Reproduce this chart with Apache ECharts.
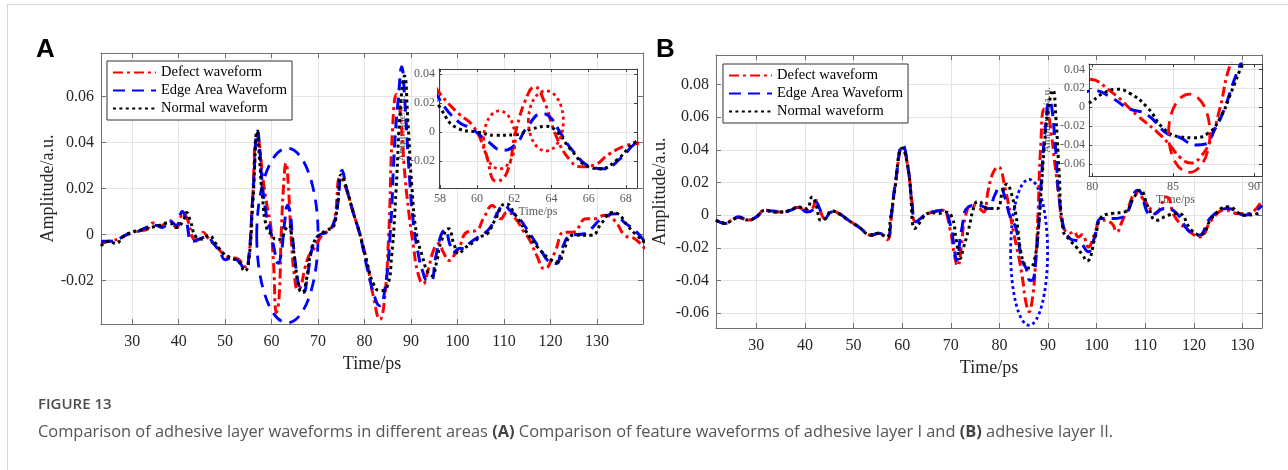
<!DOCTYPE html>
<html><head><meta charset="utf-8">
<script src="https://cdn.jsdelivr.net/npm/echarts@6/dist/echarts.min.js"></script>
<style>
html,body{margin:0;padding:0;background:#fff;}
#wrap{position:relative;width:1288px;height:470px;overflow:hidden;background:#fff;}
#frame{position:absolute;left:7px;top:4px;width:1290px;height:480px;border-left:1px solid #d6d6d6;border-top:1px solid #d6d6d6;}
#chart{position:absolute;left:0;top:0;width:1288px;height:470px;}
.letter{position:absolute;font-family:"Liberation Sans",Arial,sans-serif;font-weight:bold;font-size:26px;line-height:26px;color:#000;}
#fig{position:absolute;left:38px;top:396px;font-family:"Open Sans",sans-serif;font-size:15px;line-height:15px;color:#4d4d4d;font-weight:600;}
#cap{position:absolute;left:38px;top:423px;font-family:"Open Sans",sans-serif;font-size:16.4px;line-height:16px;color:#555;white-space:nowrap;}
#cap b{font-weight:700;color:#444;}
</style></head>
<body><div id="wrap">
<div id="frame"></div>
<div id="chart"></div>
<div class="letter" style="left:36px;top:35px;">A</div>
<div class="letter" style="left:656px;top:35px;">B</div>
<div id="fig">FIGURE 13</div>
<div id="cap">Comparison of adhesive layer waveforms in different areas <b>(A)</b> Comparison of feature waveforms of adhesive layer I and <b>(B)</b> adhesive layer II.</div>
</div>
<script>
// ---------- data (time in ps, amplitude in a.u.) ----------
const seriesNames = ['Defect waveform', 'Edge Area Waveform', 'Normal waveform'];

const defectA = [[23.3,-0.004],[25,-0.003],[27,-0.002],[29,0.0],[31,0.0015],[33,0.002],[34.5,0.005],[36,0.0035],[38,0.006],[39.5,0.003],[41,0.009],[42,0.006],[43.2,-0.002],[44.5,-0.003],[45.3,0.001],[46.5,-0.002],[48,-0.005],[50,-0.009],[51.5,-0.010],[53,-0.011],[54.3,-0.014],[55,-0.012],[55.9,0.015],[56.8,0.042],[57.3,0.040],[58,0.0265],[59,0.0127],[59.8,0.0039],[60.4,-0.0122],[61.05,-0.034],[61.6,-0.028],[62.1,0.0016],[62.75,0.0265],[63.1,0.031],[63.55,0.023],[64.27,-0.0034],[65,-0.0195],[65.6,-0.024],[66.24,-0.023],[67.14,-0.0149],[68.04,-0.0092],[68.6,-0.008],[70,-0.003],[71,0.0],[72.5,0.002],[73.5,0.006],[74.8,0.025],[76,0.020],[77.5,0.010],[79,0.0],[80.5,-0.012],[82,-0.028],[83.3,-0.037],[84.2,-0.030],[85.2,0.0],[86,0.045],[86.9,0.061],[87.6,0.055],[88.5,0.030],[89.5,0.010],[90.5,-0.005],[91.5,-0.017],[92.6,-0.0215],[93.6,-0.016],[95,-0.006],[96,-0.004],[97,-0.008],[98.2,-0.0113],[99.3,-0.009],[100.5,-0.005],[102,0.001],[104,0.0017],[105.7,0.0075],[107.5,0.0126],[109.3,0.0068],[110.7,0.0097],[112.5,0.0068],[114,0.002],[115.4,-0.002],[117,-0.009],[118.7,-0.015],[120.8,-0.0084],[123,0.001],[124.8,0.001],[127.7,0.0068],[129.5,0.0068],[131.7,0.0083],[133.8,0.006],[136,-0.0004],[138.2,-0.002],[140.6,-0.007]];

const edgeA = [[23.3,-0.003],[25,-0.003],[27,-0.002],[29,0.0],[31,0.001],[33,0.003],[35,0.004],[36.5,0.003],[38,0.006],[39.5,0.004],[40.8,0.010],[41.5,0.007],[43,-0.003],[44.5,-0.002],[46,-0.001],[47.5,-0.004],[49,-0.008],[50,-0.011],[51.5,-0.010],[53,-0.012],[54.3,-0.015],[55,-0.012],[56,0.018],[57,0.045],[57.5,0.036],[58,0.022],[59,0.007],[59.7,0.0023],[60.5,-0.0057],[61.4,-0.0126],[62.1,-0.008],[62.7,0.0035],[63.5,0.0127],[64,0.0092],[64.45,0.0],[65.2,-0.0138],[66.06,-0.0237],[66.8,-0.0253],[67.7,-0.0184],[68.5,-0.008],[69.5,-0.002],[70.5,0.0],[72,0.001],[73,0.003],[74,0.010],[75.2,0.028],[76,0.021],[77.5,0.010],[79,0.0],[80.5,-0.014],[82,-0.026],[83.2,-0.031],[84.3,-0.025],[85.5,0.0],[86.5,0.040],[87.3,0.060],[88,0.073],[88.6,0.060],[89.5,0.030],[90.5,0.005],[91.5,-0.008],[92.5,-0.016],[93.5,-0.020],[94.3,-0.020],[95.3,-0.010],[96.5,0.0],[97.4,0.002],[98.3,-0.004],[99.2,-0.0077],[100.5,-0.006],[101.4,-0.0062],[102.5,-0.004],[104.2,-0.0015],[105.5,0.0],[107.1,0.0032],[108.5,0.009],[110,0.0126],[111.5,0.010],[113.3,0.0068],[115,0.002],[116.3,-0.002],[118,-0.007],[119.4,-0.0113],[121.2,-0.0127],[122.5,-0.006],[124.4,-0.0004],[127.3,0.0003],[128.5,0.002],[131,0.0068],[133.8,0.009],[136,0.005],[138.2,0.0017],[140.6,-0.004]];

const normalA = [[23.3,-0.005],[25,-0.003],[26.5,-0.004],[28,-0.001],[30,0.001],[32,0.002],[34,0.003],[36,0.004],[38,0.005],[39.5,0.003],[41,0.006],[41.7,0.0095],[42.5,0.006],[43.7,-0.001],[45,-0.002],[46.5,-0.0005],[48,-0.004],[49.5,-0.008],[51,-0.010],[53,-0.012],[54.2,-0.016],[55,-0.013],[56,0.015],[56.9,0.045],[57.4,0.033],[58,0.017],[59,0.0023],[60,0.0],[61,-0.0023],[62,-0.002],[63,0.0023],[63.7,0.0039],[64.3,0.0],[65,-0.0115],[66,-0.024],[66.6,-0.0253],[67.5,-0.0195],[68.5,-0.007],[69.5,-0.002],[70.5,0.0],[72,0.002],[73.2,0.003],[74,0.010],[75,0.026],[76,0.021],[77.5,0.010],[79,0.0],[80.5,-0.012],[82,-0.022],[83.3,-0.0245],[84.8,-0.023],[85.8,-0.010],[86.8,0.020],[87.7,0.055],[88.6,0.069],[89.3,0.050],[90.2,0.020],[91.2,0.0],[92.5,-0.010],[93.5,-0.016],[94.5,-0.018],[95.5,-0.012],[96.5,-0.003],[98.1,0.0025],[99.2,-0.004],[100.3,-0.0084],[101.5,-0.006],[103.5,-0.0033],[105,-0.001],[106.4,0.0003],[108,0.006],[110.4,0.0134],[112.5,0.0083],[114.5,0.002],[117.2,-0.0055],[119.8,-0.0106],[121.6,-0.012],[123,-0.006],[124.8,-0.0004],[128.8,-0.0004],[131,0.005],[133.3,0.0095],[134.5,0.009],[136.5,0.004],[138.2,0.0003],[140.6,-0.004]];

const defectB = [[21.7,-0.003],[23.6,-0.005],[25,-0.003],[26.3,-0.0014],[28.4,-0.003],[30,-0.001],[31.8,0.003],[33.5,0.002],[35.2,0.002],[37,0.003],[38.6,0.0047],[40.4,0.0026],[41.5,0.004],[42.3,0.009],[43,0.004],[44.1,-0.002],[45.5,0.0026],[47,0.001],[48.9,-0.003],[51,-0.0071],[53.7,-0.0122],[55.1,-0.0112],[56.9,-0.015],[57.8,0.0],[58.5,0.0173],[60.1,0.042],[61.25,0.0275],[62,0.008],[62.8,-0.004],[64.7,0.0],[67.1,0.0026],[68.4,0.003],[69.8,-0.008],[70.6,-0.022],[71.4,-0.031],[72.2,-0.018],[72.9,-0.002],[74.3,0.006],[75.6,0.005],[76.7,0.002],[77.7,0.0153],[78.7,0.026],[79.75,0.0295],[81.1,0.0173],[82.8,-0.009],[84,-0.026],[84.8,-0.040],[85.4,-0.0526],[86.1,-0.059],[86.7,-0.0526],[87.3,-0.035],[87.9,-0.001],[88.5,0.043],[89.2,0.065],[89.8,0.064],[90.4,0.056],[91.4,0.0316],[92.3,0.010],[93.1,-0.007],[94.5,-0.011],[95.3,-0.010],[96.2,-0.0133],[97,-0.012],[98.3,-0.0194],[99.5,-0.012],[101,-0.003],[103.1,-0.005],[104.1,-0.0102],[105.2,-0.004],[106.5,0.0051],[108.2,0.0133],[110.3,0.0071],[112,0.001],[114.4,0.0112],[116.1,-0.001],[118.8,-0.0092],[121.2,-0.0133],[123.6,-0.0031],[126.4,0.0031],[129.1,0.001],[131.1,0.001],[134,0.0095]];

const edgeB = [[21.7,-0.003],[23.6,-0.005],[25,-0.003],[26.3,-0.001],[28.4,-0.003],[30,-0.001],[31.8,0.003],[33.5,0.0025],[35.2,0.002],[37,0.003],[38.6,0.005],[40.4,0.002],[41.5,0.003],[42.3,0.008],[43,0.004],[44.1,-0.002],[45.5,0.002],[47,0.001],[48.9,-0.003],[51,-0.007],[53.7,-0.012],[55.1,-0.011],[56.9,-0.013],[57.8,0.001],[58.5,0.018],[60.1,0.043],[61.25,0.028],[62,0.008],[62.8,-0.004],[64.7,0.0],[67.1,0.0026],[68.5,0.003],[69.9,-0.006],[70.6,-0.018],[71.2,-0.0275],[72.2,-0.0092],[73.6,0.0051],[75.6,0.0061],[77.7,0.004],[79,0.012],[80.1,0.0175],[81.2,0.010],[82.2,-0.001],[83.4,-0.008],[84.6,-0.0275],[85.4,-0.032],[86.4,-0.040],[87,-0.039],[87.5,-0.026],[88.1,-0.005],[88.9,0.034],[89.5,0.055],[90.3,0.070],[90.8,0.065],[91.4,0.046],[92.8,-0.001],[94.5,-0.0143],[96.5,-0.0163],[98.3,-0.0224],[99.5,-0.014],[101,-0.002],[103.7,-0.002],[105.8,0.0],[108.5,0.0153],[111.3,0.0],[114,0.0041],[116.5,0.001],[118.8,-0.0092],[120.9,-0.0122],[123.6,-0.001],[127,0.0041],[130.5,0.0],[134,0.006]];

const normalB = [[21.7,-0.003],[23.6,-0.005],[25,-0.003],[26.3,-0.0014],[28.4,-0.003],[30,-0.001],[31.8,0.003],[33.5,0.002],[35.2,0.002],[37,0.003],[38.6,0.005],[40.3,0.004],[41.5,0.0112],[42.3,0.006],[43.3,-0.0031],[44.3,-0.002],[45.5,0.0026],[47,0.001],[48.9,-0.003],[51,-0.007],[53.7,-0.0122],[55.1,-0.011],[56.8,-0.0135],[57.6,-0.002],[58.3,0.012],[60,0.041],[61.3,0.027],[62.6,-0.0081],[63.5,-0.005],[64.7,0.0],[66,0.0015],[67.5,0.001],[68.8,0.002],[70.2,-0.001],[71.1,-0.015],[71.9,-0.0265],[72.6,-0.020],[73.6,-0.0092],[75,0.0071],[75.8,0.0084],[77,0.005],[78.4,0.0041],[79.5,0.004],[80.7,0.0149],[81.5,0.019],[82.3,0.0149],[83.4,0.0],[84.4,-0.0223],[85.4,-0.0313],[86.2,-0.0323],[87.1,-0.0284],[87.9,-0.0117],[88.7,0.0202],[89.3,0.045],[90,0.064],[91,0.0765],[91.6,0.060],[92.2,0.030],[93.1,-0.0092],[94.5,-0.0153],[95.8,-0.0194],[97,-0.024],[98,-0.028],[99.7,-0.0133],[101,-0.001],[103.1,0.001],[105.8,0.002],[107.5,0.010],[108.9,0.0153],[110.6,0.005],[112.3,-0.0031],[114.7,0.0],[116.8,0.001],[119.5,-0.0092],[121.2,-0.0122],[123.9,-0.001],[127,0.0051],[130.5,0.0],[133.2,0.001],[134,0.002]];

// highlighted regions [centre time, centre amplitude, half-width (ps), half-height (a.u.)]
const markA = [[63.4,-0.0005,6.6,0.038]];
const markInsetA = [[61.2,-0.0054,0.85,0.020],[63.7,0.0076,0.94,0.0207]];
const markB = [[86.1,-0.0227,3.8,0.0446]];
const markInsetB = [[86.0,-0.0276,1.28,0.0414]];

// axis ranges
const rangeA = {x:[23.3,139.9], y:[-0.039,0.079]};
const rangeInsetA = {x:[57.95,68.6], y:[-0.0386,0.0434]};
const rangeB = {x:[21.7,134.0], y:[-0.069,0.098]};
const rangeInsetB = {x:[79.8,90.5], y:[-0.0728,0.0457]};

// ---------- chart ----------
const SERIF = '"Liberation Serif","Times New Roman",serif';
const chart = echarts.init(document.getElementById('chart'), null, {renderer:'canvas'});

const xAxes = [], yAxes = [];
function axis(list, o) {
  const a = {
    type:'value', gridIndex:o.grid, min:o.range[0], max:o.range[1], position:o.pos,
    splitNumber:o.split, z:o.z, silent:true,
    axisLine:{show:o.line, onZero:false, lineStyle:{color:o.frame, width:1}},
    axisTick:{show:o.line, inside:true, length:o.tick, lineStyle:{color:o.frame, width:1}},
    splitLine:{show:!!o.gridLines, lineStyle:{color:'#e4e4e4', width:1}},
    axisLabel:{show:!!o.labels, color:o.labelColor, fontFamily:SERIF, fontSize:o.fontSize, margin:o.margin,
      showMinLabel:false, showMaxLabel:false, hideOverlap:false},
    axisPointer:{show:false}
  };
  if (o.name) {
    a.name = o.name; a.nameLocation = 'middle'; a.nameGap = o.nameGap;
    if (o.rotate) a.nameRotate = 90;
    a.nameTextStyle = {fontFamily:SERIF, fontSize:o.nameSize, color:o.nameColor};
  }
  list.push(a);
  return list.length - 1;
}
function panel(g, rx, ry, main, z, yNameGap) {
  const frame = main ? '#707070' : '#404040';
  const lc = main ? '#262626' : '#5a5a5a';
  const fs = main ? 16 : 12;
  const tick = main ? 5 : 3;
  const xs = main ? 12 : (rx[1]-rx[0] > 10.65 ? 2 : 5);
  const ys = main ? (ry[1]-ry[0] > 0.15 ? 8 : 6) : (ry[1]-ry[0] > 0.1 ? 6 : 4);
  const xi = axis(xAxes, {grid:g, range:rx, pos:'bottom', split:xs, z:z, line:true, frame, tick, gridLines:true,
    labels:true, labelColor:lc, fontSize:fs, margin: main ? 10 : 5,
    name: main ? 'Time/ps' : null, nameGap:27, nameSize:18, nameColor:'#262626'});
  axis(xAxes, {grid:g, range:rx, pos:'top', split:xs, z:z, line:true, frame, tick});
  const yi = axis(yAxes, {grid:g, range:ry, pos:'left', split:ys, z:z, line:true, frame, tick, gridLines:true,
    labels:true, labelColor:lc, fontSize:fs, margin: main ? 7 : 4,
    name: main ? 'Amplitude/a.u.' : null, rotate:true, nameGap:yNameGap, nameSize:18, nameColor:'#262626'});
  axis(yAxes, {grid:g, range:ry, pos:'right', split:ys, z:z, line:true, frame, tick});
  if (!main) {
    // inset axis titles sit beneath the main curves
    axis(xAxes, {grid:g, range:rx, pos:'bottom', split:xs, z:1, line:false,
      name:'Time/ps', nameGap:18, nameSize:12, nameColor:'#5a5a5a'});
    axis(yAxes, {grid:g, range:ry, pos:'left', split:ys, z:1, line:false,
      name:'Amplitude/a.u.', rotate:true, nameGap:yNameGap, nameSize:11, nameColor:'#5a5a5a'});
  }
  return [xi, yi];
}

const grids = [
  {left:101, top:53, width:542, height:271, z:0},
  {left:439, top:69, width:198, height:119, z:3, show:true, backgroundColor:'#fff', borderWidth:0},
  {left:716, top:55, width:546, height:273, z:0},
  {left:1089, top:64, width:173, height:112, z:3, show:true, backgroundColor:'#fff', borderWidth:0}
];
grids.forEach(g => { g.outerBoundsMode = 'none'; g.containLabel = false; });

const axA = panel(0, rangeA.x, rangeA.y, true, 1, 43);
const axIA = panel(1, rangeInsetA.x, rangeInsetA.y, false, 4, 31);
const axB = panel(2, rangeB.x, rangeB.y, true, 1, 47);
const axIB = panel(3, rangeInsetB.x, rangeInsetB.y, false, 4, 36);

const styles = [
  {color:'#ff0000', dash:[10,4,3,4]},
  {color:'#0000ff', dash:[12,7]},
  {color:'#000000', dash:[3,3.4]}
];
const series = [];
function lines(datas, ax, z) {
  datas.forEach((d, i) => {
    series.push({
      type:'line', name:seriesNames[i], data:d, xAxisIndex:ax[0], yAxisIndex:ax[1],
      symbol:'none', showSymbol:false, smooth:0.5, z:z, clip:true, silent:true, animation:false,
      lineStyle:{color:styles[i].color, width:3, type:styles[i].dash, cap:'butt'},
      itemStyle:{color:styles[i].color}
    });
  });
}
function marks(name, data, ax, z, color, dash) {
  series.push({
    type:'custom', name:name, data:data, xAxisIndex:ax[0], yAxisIndex:ax[1], z:z, clip:true,
    silent:true, animation:false, encode:{x:0, y:1},
    renderItem:function(params, api) {
      const c = api.coord([api.value(0), api.value(1)]);
      const s = api.size([api.value(2), api.value(3)]);
      return {type:'ellipse', shape:{cx:c[0], cy:c[1], rx:s[0], ry:s[1]},
        style:{fill:'none', stroke:color, lineWidth:2.8, lineDash:dash}};
    }
  });
}
lines([defectA, edgeA, normalA], axA, 2);
marks('markA', markA, axA, 2, '#0000ff', [12,8]);
lines([defectA, edgeA, normalA], axIA, 5);
marks('markInsetA', markInsetA, axIA, 6, '#ff0000', [3,3.5]);
lines([defectB, edgeB, normalB], axB, 2);
marks('markB', markB, axB, 2, '#0000ff', [3,3]);
lines([defectB, edgeB, normalB], axIB, 5);
marks('markInsetB', markInsetB, axIB, 6, '#ff0000', [12,7]);

function legend(left, top) {
  return {
    data:seriesNames, left:left, top:top, orient:'vertical', itemWidth:43, itemHeight:14, itemGap:3,
    padding:[4,5,4,5], backgroundColor:'#fff', borderColor:'#333', borderWidth:1, borderRadius:0,
    textStyle:{fontFamily:SERIF, fontSize:14.5, color:'#000'}, selectedMode:false, z:10,
    itemStyle:{opacity:0}
  };
}

chart.setOption({
  animation:false,
  backgroundColor:'transparent',
  grid:grids,
  xAxis:xAxes,
  yAxis:yAxes,
  legend:[legend(107,61), legend(723,64)],
  series:series
});
</script>
</body></html>
